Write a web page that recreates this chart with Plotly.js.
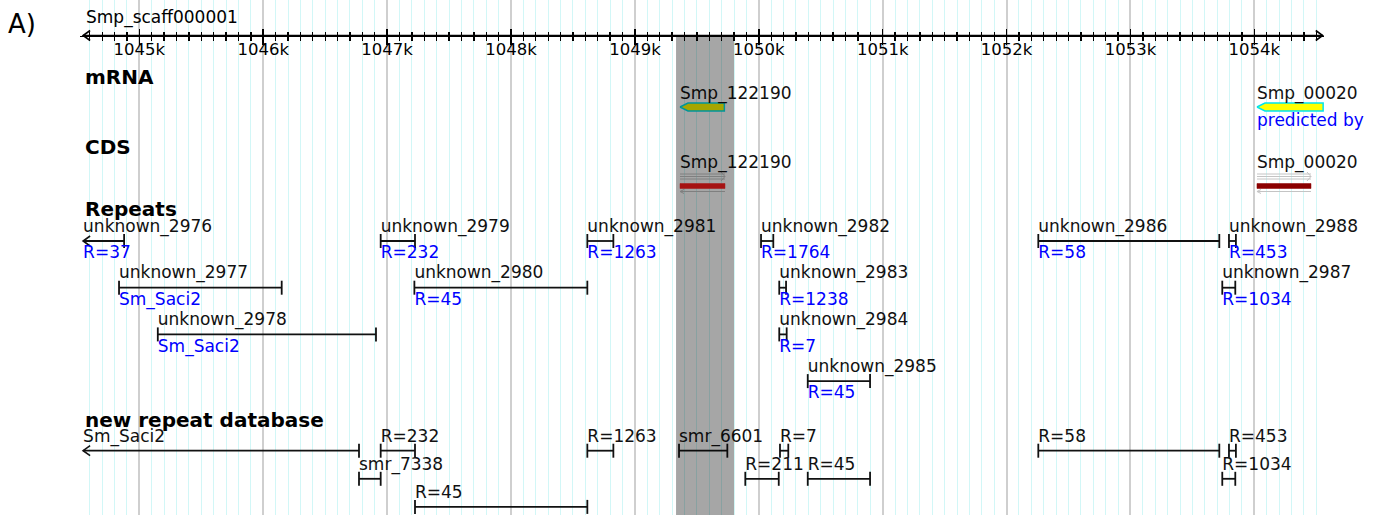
<!DOCTYPE html>
<html><head><meta charset="utf-8">
<script src="https://cdn.plot.ly/plotly-3.0.1.min.js"></script>
<style>html,body{margin:0;padding:0;background:#fff}#chart{width:1375px;height:515px}</style>
</head><body><div id="chart"></div>
<script>
// ---------------- data ----------------
const panelLabel = 'A)';
const scaffoldName = 'Smp_scaff000001';
const viewStart = 1044521, viewEnd = 1054562;
const rulerStart = 1044546, rulerEnd = 1054552;
const majorTickVals = [1045000,1046000,1047000,1048000,1049000,1050000,1051000,1052000,1053000,1054000];
const majorTickText = ['1045k','1046k','1047k','1048k','1049k','1050k','1051k','1052k','1053k','1054k'];
const highlightStart = 1049332, highlightEnd = 1049800;

const trackTitles = ['mRNA','CDS','Repeats','new repeat database'];

const geneNames = ['Smp_122190','Smp_00020'];
const geneStart = [1049364, 1054021];
const geneEnd   = [1049722, 1054555];
const geneNote  = ['', 'predicted by'];
const cdsStart  = [1049364, 1054021];
const cdsEnd    = [1049727, 1054457];

const repeatNames = ['unknown_2976','unknown_2977','unknown_2978','unknown_2979','unknown_2980','unknown_2981','unknown_2982','unknown_2983','unknown_2984','unknown_2985','unknown_2986','unknown_2987','unknown_2988'];
const repeatStart = [1044546,1044836,1045149,1046948,1047220,1048616,1050018,1050165,1050165,1050395,1052256,1053741,1053795];
const repeatEnd   = [1044877,1046149,1046910,1047225,1048616,1048826,1050117,1050220,1050225,1050898,1053717,1053846,1053851];
const repeatNote  = ['R=37','Sm_Saci2','Sm_Saci2','R=232','R=45','R=1263','R=1764','R=1238','R=7','R=45','R=58','R=1034','R=453'];
const repeatRow   = [0,1,2,0,1,0,0,1,2,3,0,1,0];
const repeatTruncLeft = [true,false,false,false,false,false,false,false,false,false,false,false,false];

const dbNames = ['Sm_Saci2','R=232','smr_7338','R=45','R=1263','smr_6601','R=7','R=211','R=45','R=58','R=453','R=1034'];
const dbStart = [1044546,1046948,1046773,1047225,1048616,1049356,1050171,1049891,1050395,1052256,1053795,1053741];
const dbEnd   = [1046773,1047225,1046948,1048616,1048826,1049746,1050238,1050161,1050898,1053717,1053851,1053846];
const dbRow   = [0,0,1,2,0,0,0,1,1,0,0,1];
const dbTruncLeft = [true,false,false,false,false,false,false,false,false,false,false,false];

// ---------------- layout constants ----------------
const W = 1375, H = 515, DOM_L = 80, DOM_R = 1324;
const PX = (viewEnd - viewStart) / (DOM_R - DOM_L); // bp per pixel
const RULER_Y = 35.5;
const REP_BASE = 241, REP_PITCH = 46.7, DB_BASE = 450.7, DB_PITCH = 28.1;
const TXT_DY = 2.5;
const FONT = 'DejaVu Sans';
const LBL = 17;
const INK = '#111';

const traces = [];
const common = {hoverinfo:'skip', showlegend:false, cliponaxis:false, xaxis:'x', yaxis:'y'};

function textTrace(xs, ys, texts, color, size){
  return Object.assign({}, common, {type:'scatter', mode:'text', x:xs, y:ys.map(v=>v+TXT_DY), text:texts,
    textposition:'middle right', textfont:{family:FONT, size:size||LBL, color:color}});
}

function featureTraces(starts, ends, rows, trunc, base, pitch){
  const lx=[], ly=[], cx=[], cy=[], ax=[], ay=[];
  for(let i=0;i<starts.length;i++){
    const y = base + pitch*rows[i];
    lx.push(starts[i], ends[i], null); ly.push(y, y, null);
    if(trunc[i]){ ax.push(starts[i]+7*PX, starts[i], starts[i]+7*PX, null); ay.push(y-5, y, y+5, null); }
    else { cx.push(starts[i]); cy.push(y); }
    cx.push(ends[i]); cy.push(y);
  }
  return [
    Object.assign({}, common, {type:'scatter', mode:'lines', x:lx, y:ly, line:{color:INK, width:1.8}}),
    Object.assign({}, common, {type:'scatter', mode:'lines', x:ax, y:ay, line:{color:INK, width:1.6}}),
    Object.assign({}, common, {type:'scatter', mode:'markers', x:cx, y:cy,
      marker:{symbol:'line-ns-open', size:10, color:INK, line:{color:INK, width:1.8}}})
  ];
}

// ruler arrow heads + line
traces.push(Object.assign({}, common, {type:'scatter', mode:'lines',
  x:[rulerStart+7*PX, rulerStart, rulerStart+7*PX, null, rulerEnd-7*PX, rulerEnd, rulerEnd-7*PX, null, rulerStart, rulerEnd],
  y:[RULER_Y-5, RULER_Y, RULER_Y+5, null, RULER_Y-5, RULER_Y, RULER_Y+5, null, RULER_Y, RULER_Y],
  line:{color:'#000', width:1.6}}));

// genes (mRNA)
const GENE_Y = 107, GENE_H = 4;
geneNames.forEach((g,i)=>{
  const s = geneStart[i], e = geneEnd[i], sh = 8*PX;
  traces.push(Object.assign({}, common, {type:'scatter', mode:'lines', fill:'toself',
    x:[s, s+sh, e, e, s+sh, s], y:[GENE_Y, GENE_Y-GENE_H, GENE_Y-GENE_H, GENE_Y+GENE_H, GENE_Y+GENE_H, GENE_Y],
    fillcolor:'#ffff00', line:{color:'#00e5ee', width:1.5}}));
});
traces.push(textTrace(geneStart, geneNames.map(()=>92), geneNames, INK));
traces.push(textTrace(geneStart, geneNote.map(()=>119.5), geneNote, '#0000ff'));

// CDS
const CDS_Y = 186, cdsColors = ['#ff2020', '#8b0000'];
cdsStart.forEach((s,i)=>{
  const e = cdsEnd[i];
  traces.push(Object.assign({}, common, {type:'scatter', mode:'lines',
    x:[s,e,null,s,e,null,s,e,null,s,e], y:[CDS_Y-12, CDS_Y-12, null, CDS_Y-9.5, CDS_Y-9.5, null, CDS_Y-7, CDS_Y-7, null, CDS_Y+5.5, CDS_Y+5.5],
    line:{color:'#c4c4c4', width:1}}));
  traces.push(Object.assign({}, common, {type:'scatter', mode:'lines',
    x:[e-4*PX, e, e-4*PX, null, s+4*PX, s, s+4*PX], y:[CDS_Y-14, CDS_Y-9.5, CDS_Y-5, null, CDS_Y+3.5, CDS_Y+5.5, CDS_Y+7.5],
    line:{color:'#c4c4c4', width:1}}));
  traces.push(Object.assign({}, common, {type:'scatter', mode:'lines', fill:'toself',
    x:[s,e,e,s,s], y:[CDS_Y-2.5, CDS_Y-2.5, CDS_Y+2.5, CDS_Y+2.5, CDS_Y-2.5],
    fillcolor:cdsColors[i], line:{color:cdsColors[i], width:0.5}}));
});
traces.push(textTrace(cdsStart, geneNames.map(()=>161.5), geneNames, INK));

// Repeats
featureTraces(repeatStart, repeatEnd, repeatRow, repeatTruncLeft, REP_BASE, REP_PITCH).forEach(t=>traces.push(t));
traces.push(textTrace(repeatStart, repeatRow.map(r=>REP_BASE+REP_PITCH*r-16), repeatNames, INK));
traces.push(textTrace(repeatStart, repeatRow.map(r=>REP_BASE+REP_PITCH*r+10.5), repeatNote, '#0000ff'));

// new repeat database
featureTraces(dbStart, dbEnd, dbRow, dbTruncLeft, DB_BASE, DB_PITCH).forEach(t=>traces.push(t));
traces.push(textTrace(dbStart, dbRow.map(r=>DB_BASE+DB_PITCH*r-15.5), dbNames, INK));

// dummy trace for ruler's upper tick axis
traces.push({type:'scatter', mode:'markers', x:[viewStart], y:[-100], xaxis:'x2', yaxis:'y', marker:{opacity:0}, hoverinfo:'skip', showlegend:false});

const titleY = [76.5, 147, 209, 420];
const annotations = trackTitles.map((t,i)=>({xref:'paper', yref:'paper', x:83/W, y:1-titleY[i]/H, xanchor:'left', yanchor:'middle',
  text:t, showarrow:false, font:{family:FONT, size:20, weight:'bold', color:'#000'}}));
annotations.push({xref:'paper', yref:'paper', x:84/W, y:1-17.5/H, xanchor:'left', yanchor:'middle', text:scaffoldName, showarrow:false, font:{family:FONT, size:17, color:'#000'}});
annotations.push({xref:'paper', yref:'paper', x:6/W, y:1-24/H, xanchor:'left', yanchor:'middle', text:panelLabel, showarrow:false, font:{family:FONT, size:26, color:'#000'}});

const axPos = 1 - RULER_Y/H;
const layout = {
  width:W, height:H, margin:{l:0,r:0,t:0,b:0,pad:0},
  paper_bgcolor:'#fff', plot_bgcolor:'#fff', showlegend:false,
  xaxis:{domain:[DOM_L/W, DOM_R/W], range:[viewStart, viewEnd], anchor:'free', position:axPos, side:'bottom',
    showline:true, linecolor:'#000', linewidth:1.5, zeroline:false,
    tickmode:'array', tickvals:majorTickVals, ticktext:majorTickText,
    ticks:'outside', ticklen:8, tickwidth:1.5, tickcolor:'#000', ticklabelstandoff:-10,
    tickfont:{family:FONT, size:16.5, color:'#000'},
    showgrid:true, gridcolor:'#cfcfcf', gridwidth:2,
    minor:{tickmode:'linear', tick0:1044500, dtick:100, ticks:'outside', ticklen:4, tickwidth:1.3, tickcolor:'#000',
      showgrid:true, gridcolor:'#d2f7f7', gridwidth:1},
    fixedrange:true},
  xaxis2:{overlaying:'x', domain:[DOM_L/W, DOM_R/W], range:[viewStart, viewEnd], anchor:'free', position:axPos, side:'top',
    showline:false, zeroline:false, tickmode:'array', tickvals:majorTickVals, showticklabels:false,
    ticks:'outside', ticklen:7, tickwidth:1.5, tickcolor:'#000', showgrid:false,
    minor:{tickmode:'linear', tick0:1044500, dtick:100, ticks:'outside', ticklen:4, tickwidth:1.3, tickcolor:'#000', showgrid:false},
    fixedrange:true},
  yaxis:{domain:[0,1], range:[H,0], visible:false, fixedrange:true},
  shapes:[{type:'rect', xref:'x', yref:'y', layer:'above', x0:highlightStart, x1:highlightEnd, y0:37, y1:H,
    fillcolor:'rgba(0,0,0,0.35)', line:{width:0}}],
  annotations:annotations
};
Plotly.newPlot('chart', traces, layout, {staticPlot:true, displayModeBar:false});
</script></body></html>
